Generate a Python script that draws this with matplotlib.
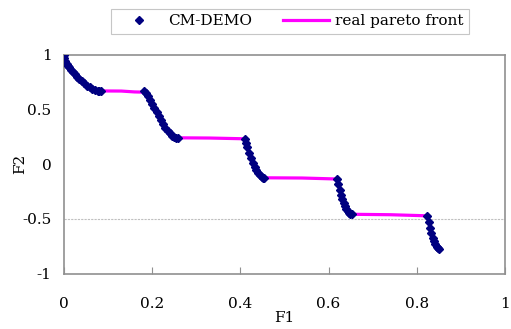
import matplotlib
matplotlib.use("Agg")
import matplotlib.pyplot as plt

# CM-DEMO solutions
demo_f1 = [0.0, 0.001, 0.003, 0.006, 0.009, 0.012, 0.016, 0.020, 0.025, 0.030,
           0.035, 0.040, 0.046, 0.052, 0.058, 0.064, 0.070, 0.076, 0.080, 0.083,
           0.182, 0.186, 0.190, 0.195, 0.200, 0.205, 0.210, 0.215, 0.220, 0.225,
           0.230, 0.235, 0.240, 0.245, 0.250, 0.254, 0.258,
           0.410, 0.413, 0.416, 0.420, 0.424, 0.428, 0.432, 0.436, 0.440, 0.444,
           0.448, 0.451, 0.454,
           0.619, 0.622, 0.625, 0.628, 0.631, 0.634, 0.637, 0.640, 0.643, 0.646,
           0.649, 0.652,
           0.824, 0.827, 0.830, 0.833, 0.836, 0.839, 0.842, 0.845, 0.848, 0.851]
demo_f2 = [1.0, 0.968, 0.945, 0.921, 0.902, 0.886, 0.866, 0.847, 0.824, 0.803,
           0.782, 0.762, 0.740, 0.720, 0.703, 0.689, 0.679, 0.672, 0.670, 0.671,
           0.671, 0.648, 0.623, 0.589, 0.553, 0.515, 0.477, 0.439, 0.402, 0.367,
           0.334, 0.306, 0.282, 0.263, 0.250, 0.244, 0.242,
           0.233, 0.193, 0.155, 0.105, 0.059, 0.016, -0.022, -0.055, -0.082, -0.102,
           -0.116, -0.122, -0.124,
           -0.135, -0.185, -0.232, -0.277, -0.316, -0.351, -0.383, -0.409, -0.430, -0.445,
           -0.454, -0.458,
           -0.472, -0.530, -0.582, -0.630, -0.671, -0.705, -0.733, -0.754, -0.767, -0.773]

# real pareto front line
front_f1 = [0.0, 0.005, 0.02, 0.04, 0.06, 0.083, 0.13, 0.16, 0.182,
            0.20, 0.22, 0.24, 0.258, 0.33, 0.41,
            0.42, 0.43, 0.44, 0.454, 0.54, 0.619,
            0.63, 0.64, 0.652, 0.74, 0.824,
            0.83, 0.84, 0.852]
front_f2 = [1.0, 0.928, 0.847, 0.762, 0.698, 0.671, 0.670, 0.662, 0.660,
            0.553, 0.402, 0.282, 0.242, 0.240, 0.233,
            0.105, -0.004, -0.082, -0.124, -0.126, -0.135,
            -0.303, -0.409, -0.458, -0.462, -0.472,
            -0.582, -0.715, -0.773]

plt.rcParams["font.family"] = ["DejaVu Serif"]

W, H = 511, 329
fig = plt.figure(figsize=(W / 100, H / 100), dpi=100)
ax = fig.add_axes([64 / W, 1 - 273.5 / H, (505 - 64) / W, (273.5 - 55) / H])

ax.axhline(-0.5, color="#c0c0c0", lw=0.8, ls=(0, (2, 1)), zorder=0)
ax.plot(front_f1, front_f2, color="#ff00ff", lw=2.3, label="real pareto front", zorder=2)
ax.plot(demo_f1, demo_f2, ls="none", marker="D", ms=3.6, color="#000080",
        label="CM-DEMO", zorder=3)

ax.set_xlim(0, 1)
ax.set_ylim(-1, 1)
ax.set_xticks([0, 0.2, 0.4, 0.6, 0.8, 1])
ax.set_xticklabels(["0", "0.2", "0.4", "0.6", "0.8", "1"])
ax.set_yticks([-1, -0.5, 0, 0.5, 1])
ax.set_yticklabels(["-1", "-0.5", "0", "0.5", "1"])
ax.tick_params(axis="x", direction="in", length=5, color="#909090", labelsize=11, pad=17)
ax.tick_params(axis="y", length=0, labelsize=11, pad=9)
for s in ax.spines.values():
    s.set_color("#909090")
    s.set_linewidth(1.2)

ax.set_xlabel("F1", fontsize=11, labelpad=0)
fig.text(20 / W, 1 - 164 / H, "F2", fontsize=11, rotation=90, ha="center", va="center")

handles, labels = ax.get_legend_handles_labels()
leg = fig.legend(handles[::-1], labels[::-1], loc="upper left",
                 bbox_to_anchor=(111 / W, 1 - 9 / H), ncol=2, fontsize=11,
                 frameon=True, fancybox=False, borderpad=0.35, borderaxespad=0,
                 handlelength=3.0, columnspacing=2.0, handletextpad=0.4)
leg.get_frame().set_edgecolor("#b8b8b8")
leg.get_frame().set_linewidth(0.8)

fig.savefig("out.png", dpi=100)
